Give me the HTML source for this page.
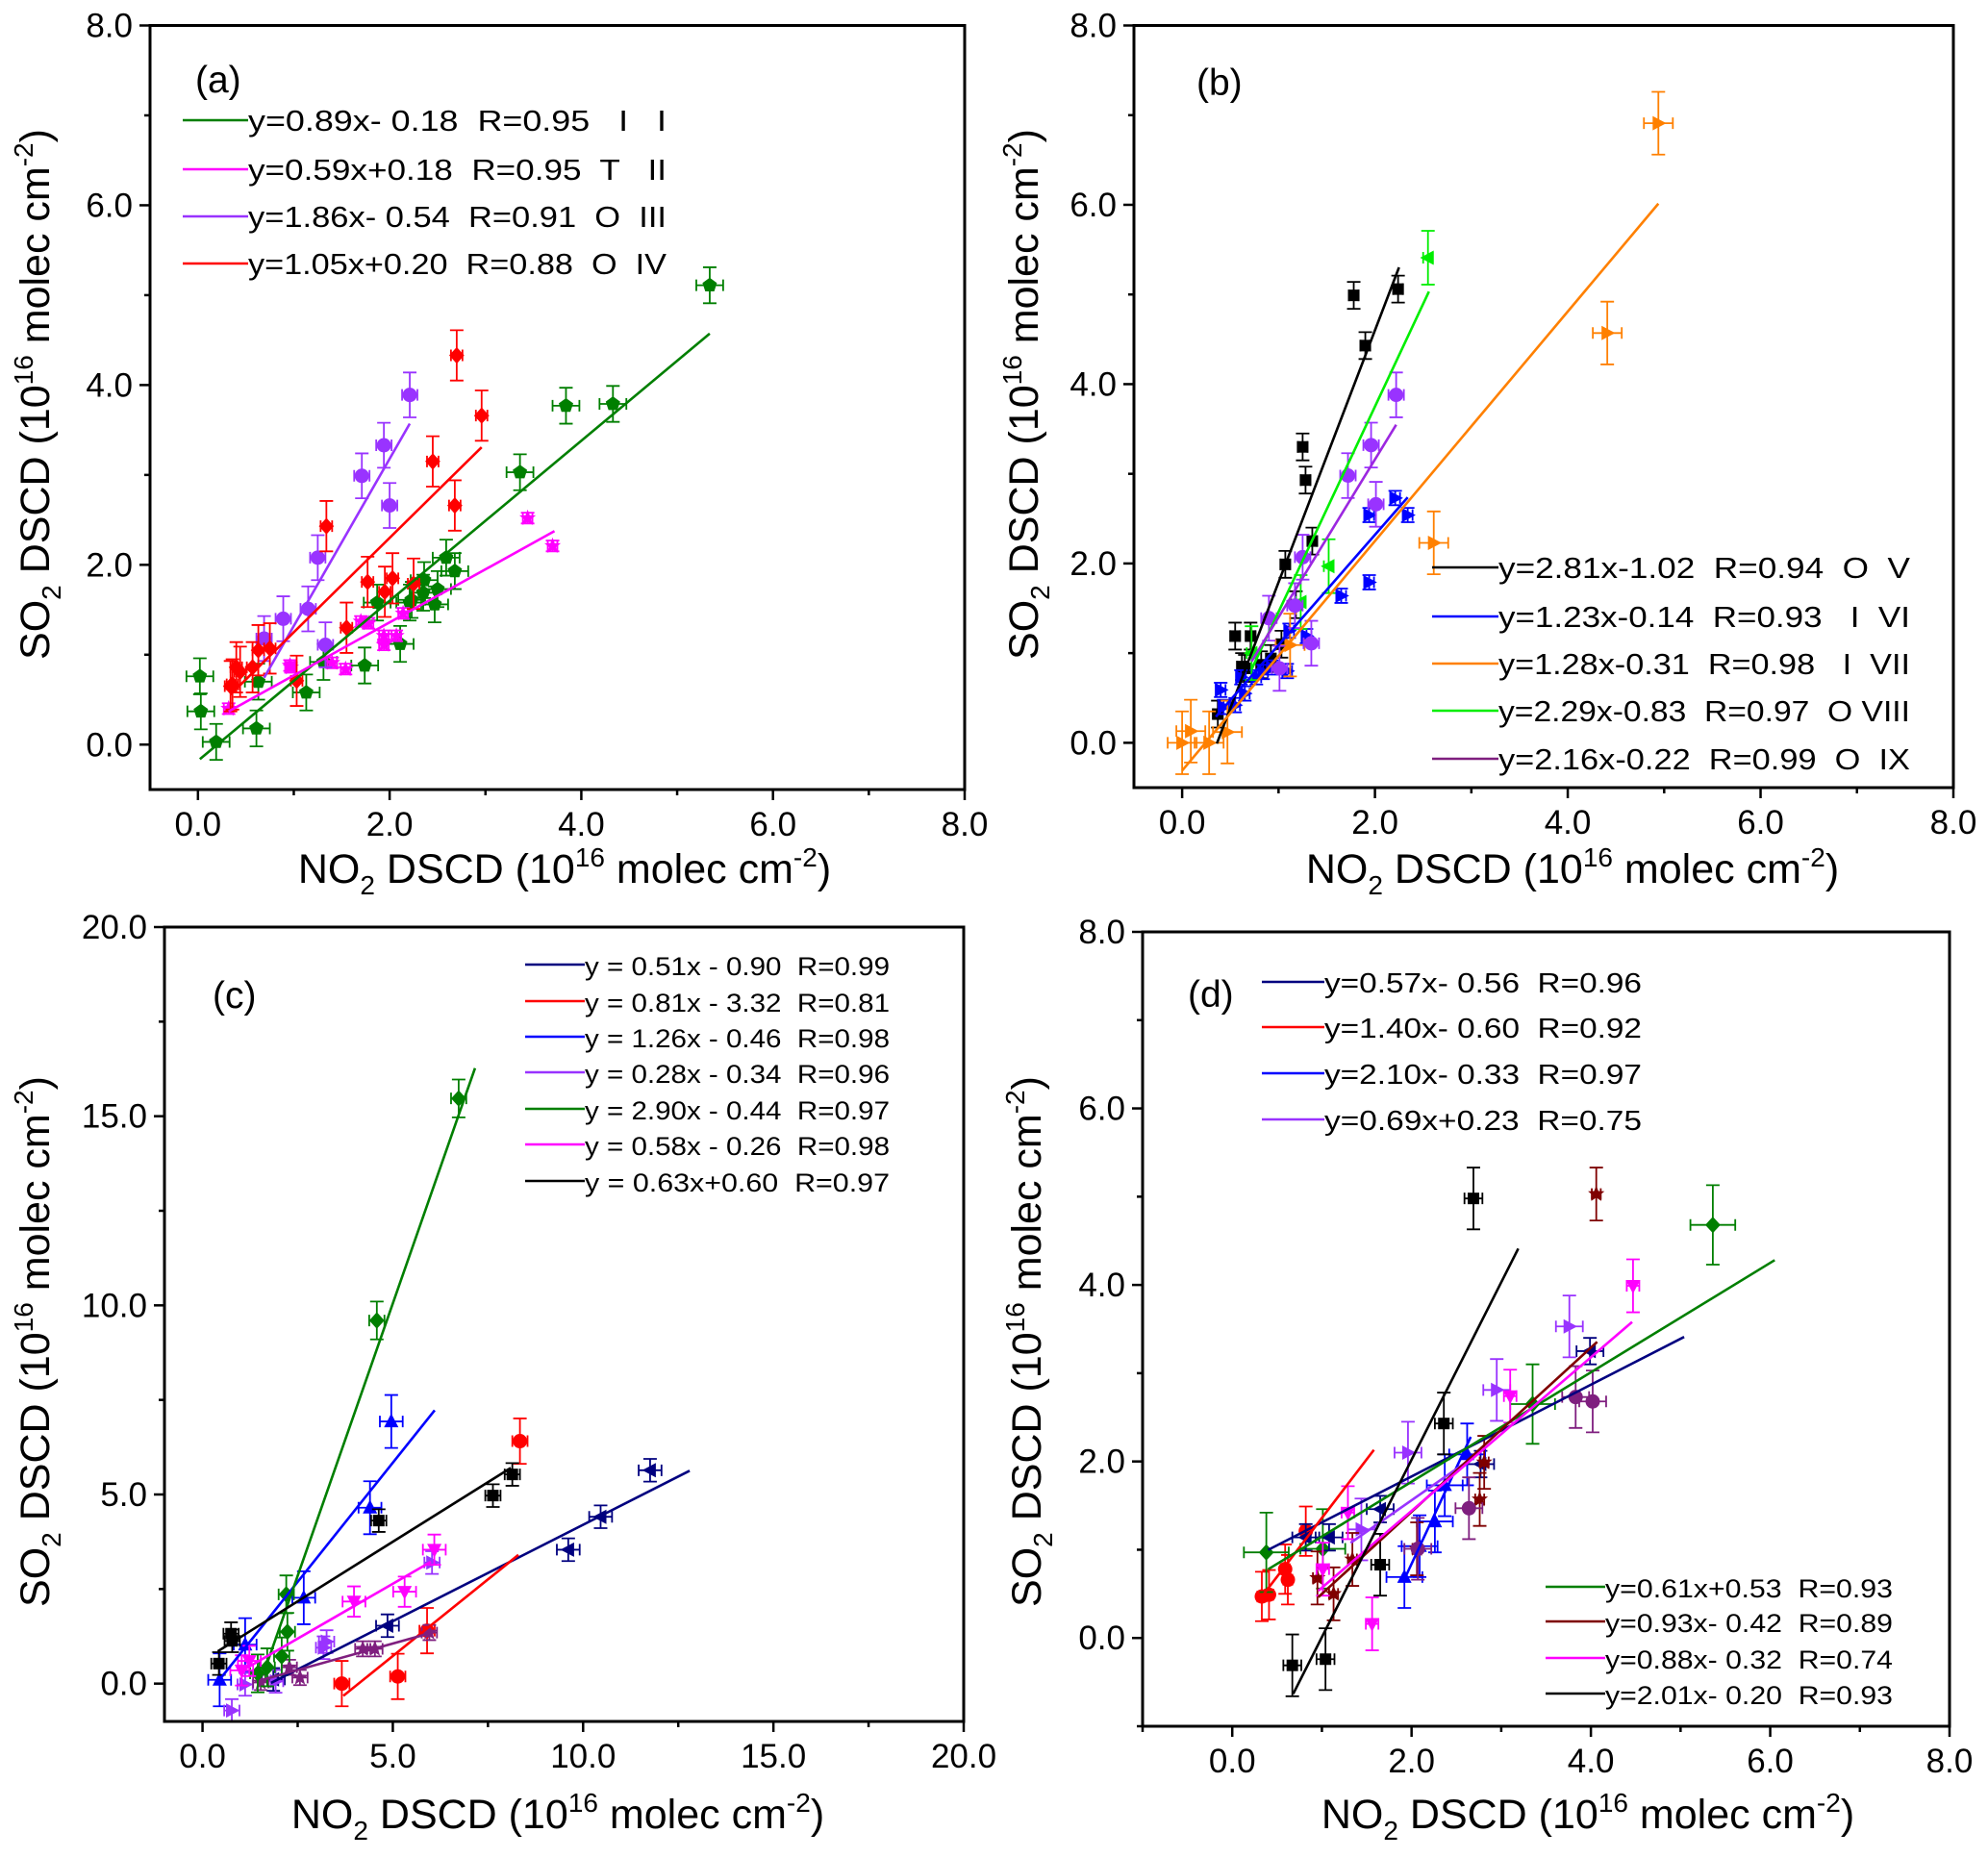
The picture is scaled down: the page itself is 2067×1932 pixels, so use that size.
<!DOCTYPE html>
<html><head><meta charset="utf-8"><style>
html,body{margin:0;padding:0;background:#fff}
svg{display:block}
text{font-family:"Liberation Sans",Arial,sans-serif;fill:#000}
</style></head><body>
<svg id="fig" width="2067" height="1932" viewBox="0 0 2067 1932" xmlns="http://www.w3.org/2000/svg"></svg>
<script>
// ---------- Panel (a) data ----------
const aGX=[0.02,0.03,0.19,0.61,0.63,1.13,1.31,1.74,1.87,2.11,2.21,2.23,2.35,2.36,2.47,2.50,2.59,2.68,3.36,3.84,4.33,5.34];
const aGY=[0.76,0.37,0.03,0.18,0.70,0.58,0.92,0.88,1.58,1.12,1.58,1.61,1.69,1.83,1.56,1.73,2.08,1.93,3.03,3.77,3.79,5.11];
const aMX=[0.32,0.96,0.97,1.40,1.54,1.70,1.78,1.94,1.94,2.07,2.14,3.44,3.70];
const aMY=[0.40,0.88,0.86,0.91,0.84,1.37,1.35,1.21,1.11,1.21,1.46,2.52,2.21];
const aPX=[0.69,0.89,1.15,1.25,1.33,1.71,1.94,2.00,2.21];
const aPY=[1.18,1.40,1.51,2.08,1.11,2.99,3.33,2.66,3.89];
const aRX=[0.34,0.36,0.40,0.44,0.57,0.63,0.75,1.03,1.34,1.55,1.77,1.95,2.03,2.25,2.45,2.68,2.70,2.96];
const aRY=[0.65,0.67,0.86,0.81,0.86,1.05,1.07,0.71,2.43,1.30,1.81,1.70,1.85,1.79,3.15,2.66,4.33,3.66];
const aFitSlope=[0.89,0.59,1.86,1.05];
const aFitIntercept=[-0.18,0.18,-0.54,0.20];
const aFitXmin=[0.02,0.32,0.69,0.34];
const aFitXmax=[5.34,3.72,2.21,2.96];
const aLegend=["y=0.89x- 0.18  R=0.95   I   I","y=0.59x+0.18  R=0.95  T   II","y=1.86x- 0.54  R=0.91  O  III","y=1.05x+0.20  R=0.88  O  IV"];
// ---------- Panel (b) data ----------
const bKX=[0.37,0.55,0.62,0.65,0.71,0.82,0.92,1.03,1.07,1.18,1.25,1.28,1.35,1.78,1.90,2.24];
const bKY=[0.32,1.19,0.85,0.83,1.19,0.87,0.94,1.10,1.99,1.54,3.30,2.93,2.25,4.99,4.43,5.06];
const bBX=[0.40,0.43,0.55,0.61,0.65,0.77,0.84,0.93,1.09,1.11,1.29,1.65,1.94,1.94,2.21,2.34];
const bBY=[0.59,0.40,0.42,0.73,0.55,0.73,0.79,0.84,0.80,1.25,1.19,1.64,1.79,2.54,2.73,2.54];
const bOX=[0.00,0.09,0.28,0.47,1.12,2.61,4.41,4.94];
const bOY=[0.00,0.13,0.00,0.12,1.09,2.23,4.57,6.91];
const bLX=[0.72,1.23,1.52,2.55];
const bLY=[1.00,1.57,1.97,5.41];
const bPX=[0.90,1.01,1.17,1.25,1.34,1.72,1.96,2.01,2.22];
const bPY=[1.39,0.83,1.53,2.07,1.11,2.98,3.32,2.66,3.88];
const bFitSlope=[2.81,1.23,1.28,2.29,1.76];
const bFitIntercept=[-1.02,-0.14,-0.31,-0.83,-0.36];
const bFitXmin=[0.36,0.35,0.0,0.72,0.72];
const bFitXmax=[2.25,2.34,4.94,2.56,2.22];
const bLegend=["y=2.81x-1.02  R=0.94  O  V","y=1.23x-0.14  R=0.93   I  VI","y=1.28x-0.31  R=0.98   I  VII","y=2.29x-0.83  R=0.97  O VIII","y=2.16x-0.22  R=0.99  O  IX"];
// ---------- Panel (c) data ----------
const cNX=[1.86,4.86,9.61,10.46,11.76];
const cNY=[0.11,1.53,3.54,4.41,5.64];
const cRX=[3.66,5.13,5.90,8.34];
const cRY=[0.00,0.19,1.40,6.41];
const cBX=[0.45,1.12,2.66,4.40,4.96];
const cBY=[0.10,1.03,2.27,4.65,6.93];
const cPX=[0.77,1.12,1.92,3.18,3.26,6.03];
const cPY=[-0.71,-0.02,0.06,0.95,1.11,3.20];
const cDX=[1.53,2.28,2.56,4.21,4.53,5.96];
const cDY=[0.03,0.43,0.16,0.92,0.92,1.35];
const cGX=[1.45,1.70,2.08,2.23,2.20,4.58,6.73];
const cGY=[0.27,0.43,0.72,1.37,2.36,9.60,15.47];
const cMX=[1.03,1.23,3.98,5.31,6.09];
const cMY=[0.35,0.60,2.17,2.43,3.54];
const cKX=[0.43,0.75,0.78,4.63,7.63,8.14];
const cKY=[0.53,1.32,1.13,4.31,4.97,5.53];
const cFitSlope=[0.51,0.81,1.26,0.28,2.88,0.58,0.63];
const cFitIntercept=[-0.90,-3.32,-0.46,-0.34,-4.35,-0.26,0.60];
const cFitXmin=[1.8,3.7,0.4,1.5,1.62,1.0,0.4];
const cFitXmax=[12.8,8.3,6.1,6.0,7.16,6.0,8.1];
const cLegend=["y = 0.51x - 0.90  R=0.99","y = 0.81x - 3.32  R=0.81","y = 1.26x - 0.46  R=0.98","y = 0.28x - 0.34  R=0.96","y = 2.90x - 0.44  R=0.97","y = 0.58x - 0.26  R=0.98","y = 0.63x+0.60  R=0.97"];
// ---------- Panel (d) data ----------
const dRX=[0.33,0.41,0.59,0.62,0.82];
const dRY=[0.47,0.49,0.78,0.66,1.21];
const dGX=[0.38,1.01,3.35,5.36];
const dGY=[0.97,1.01,2.65,4.68];
const dNX=[0.82,1.08,1.65,2.77,3.99];
const dNY=[1.14,1.14,1.46,1.97,3.25];
const dBX=[1.92,2.09,2.26,2.37,2.62];
const dBY=[0.69,1.04,1.32,1.73,2.08];
const dPX=[1.44,1.96,2.95,3.76];
const dPY=[1.23,2.10,2.81,3.53];
const dWX=[0.95,1.13,1.34,2.06,2.76,2.81,4.06];
const dWY=[0.68,0.50,0.89,1.01,1.57,1.99,5.03];
const dMX=[1.01,1.29,1.56,3.10,4.47];
const dMY=[0.78,1.42,0.16,2.74,3.99];
const dVX=[2.07,2.64,3.83,4.02];
const dVY=[1.01,1.47,2.73,2.68];
const dKX=[0.67,1.04,1.65,2.36,2.69];
const dKY=[-0.31,-0.24,0.83,2.43,4.98];
const dFitSlope=[0.52,1.33,2.18,0.71,0.62,0.93,0.87,2.01];
const dFitIntercept=[0.79,0.03,-3.52,0.14,0.53,-0.43,-0.30,-2.00];
const dFitXmin=[0.40,0.33,1.92,1.32,0.40,0.96,0.96,0.68];
const dFitXmax=[5.04,1.58,2.66,2.73,6.05,4.07,4.46,3.19];
const dLegendTop=["y=0.57x- 0.56  R=0.96","y=1.40x- 0.60  R=0.92","y=2.10x- 0.33  R=0.97","y=0.69x+0.23  R=0.75"];
const dLegendBot=["y=0.61x+0.53  R=0.93","y=0.93x- 0.42  R=0.89","y=0.88x- 0.32  R=0.74","y=2.01x- 0.20  R=0.93"];

const NS="http://www.w3.org/2000/svg";
const svg=document.getElementById('fig');
function mk(tag,attrs,parent){const e=document.createElementNS(NS,tag);for(const k in attrs)e.setAttribute(k,attrs[k]);(parent||svg).appendChild(e);return e;}

function markerPath(shape,cx,cy,r){
  const pts=[];
  if(shape==='circle')return null;
  if(shape==='square')return `M${cx-r*0.8},${cy-r*0.8}h${1.6*r}v${1.6*r}h${-1.6*r}Z`;
  if(shape==='diamond'){pts.push([cx,cy-r*1.15],[cx+r*1.05,cy],[cx,cy+r*1.15],[cx-r*1.05,cy]);}
  if(shape==='utri'){pts.push([cx,cy-r*1.1],[cx+r,cy+r*0.8],[cx-r,cy+r*0.8]);}
  if(shape==='dtri'){pts.push([cx,cy+r*1.1],[cx+r,cy-r*0.8],[cx-r,cy-r*0.8]);}
  if(shape==='rtri'){pts.push([cx+r*1.1,cy],[cx-r*0.8,cy-r],[cx-r*0.8,cy+r]);}
  if(shape==='ltri'){pts.push([cx-r*1.1,cy],[cx+r*0.8,cy-r],[cx+r*0.8,cy+r]);}
  if(shape==='pent'){for(let i=0;i<5;i++){const a=-Math.PI/2+i*2*Math.PI/5;pts.push([cx+r*1.05*Math.cos(a),cy+r*1.05*Math.sin(a)]);}}
  if(shape==='star'){for(let i=0;i<10;i++){const a=-Math.PI/2+i*Math.PI/5;const rr=i%2?r*0.5:r*1.2;pts.push([cx+rr*Math.cos(a),cy+rr*Math.sin(a)]);}}
  return 'M'+pts.map(p=>p[0].toFixed(1)+','+p[1].toFixed(1)).join('L')+'Z';
}

function panel(p){
  const g=mk('g',{});
  
  
  const sx=v=>p.x0+(v-p.xmin)/(p.xmax-p.xmin)*(p.x1-p.x0);
  const sy=v=>p.y1-(v-p.ymin)/(p.ymax-p.ymin)*(p.y1-p.y0);
  for(let v=p.xstart;v<=p.xmax+1e-9;v+=p.xstep/2){
    const major=Math.abs(Math.round(v/p.xstep)*p.xstep-v)<1e-6;
    const t=mk('line',{x1:sx(v),x2:sx(v),y1:p.y1,y2:p.y1+(major?11:6),stroke:'#000','stroke-width':2.5},g);
    
    if(major&&v>=0){const tx=mk('text',{x:sx(v),y:p.y1+48,'font-size':35,'text-anchor':'middle'},g);tx.textContent=v.toFixed(1);
      }
  }
  for(let v=p.ystart;v<=p.ymax+1e-9;v+=p.ystep/2){
    const major=Math.abs(Math.round(v/p.ystep)*p.ystep-v)<1e-6;
    const t=mk('line',{x1:p.x0,x2:p.x0-(major?11:6),y1:sy(v),y2:sy(v),stroke:'#000','stroke-width':2.5},g);
    
    if(major&&v>=0){const tx=mk('text',{x:p.x0-18,y:sy(v)+12,'font-size':35,'text-anchor':'end'},g);tx.textContent=v.toFixed(1);
      }
  }
  const cid='clip'+p.id;
  const cp=mk('clipPath',{id:cid},g);mk('rect',{x:p.x0,y:p.y0,width:p.x1-p.x0,height:p.y1-p.y0},cp);
  const plot=mk('g',{'clip-path':`url(#${cid})`},g);
  p.series.forEach(s=>{
    const sg=mk('g',{},plot);
    
    
    for(let i=0;i<s.x.length;i++){
      const cx=sx(s.x[i]),cy=sy(s.y[i]);
      const ex=(sx(s.x[i]+s.xe)-cx),ey=(cy-sy(s.y[i]+s.ye));
      const eb=mk('path',{d:`M${cx-ex},${cy}H${cx+ex}M${cx-ex},${cy-6}V${cy+6}M${cx+ex},${cy-6}V${cy+6}M${cx},${cy-ey}V${cy+ey}M${cx-7},${cy-ey}H${cx+7}M${cx-7},${cy+ey}H${cx+7}`,stroke:s.color,'stroke-width':1.8,fill:'none'},sg);
      
      let m;
      if(s.shape==='circle')m=mk('circle',{cx:cx,cy:cy,r:7.5,fill:s.color},sg);
      else m=mk('path',{d:markerPath(s.shape,cx,cy,7.5),fill:s.color},sg);
      
    }
  });
  for(let i=0;i<p.slope.length;i++){
    const a=p.xmn[i],b=p.xmx[i];
    const l=mk('line',{x1:sx(a),y1:sy(p.slope[i]*a+p.icpt[i]),x2:sx(b),y2:sy(p.slope[i]*b+p.icpt[i]),stroke:p.fitColors[i],'stroke-width':2.6},plot);
    
  }
  const fr=mk('rect',{x:p.x0,y:p.y0,width:p.x1-p.x0,height:p.y1-p.y0,fill:'none',stroke:'#000','stroke-width':3},g);
  
  const pl=mk('text',{x:p.lab[0],y:p.lab[1],'font-size':39},g);pl.textContent='('+p.id+')';
  
  p.legends.forEach(L=>{
    L.texts.forEach((t,i)=>{
      const y=L.rows[i];
      const ln=mk('line',{x1:L.lx0,x2:L.lx1,y1:y,y2:y,stroke:L.colors[i],'stroke-width':2.6},g);
      
      const tx=mk('text',{x:L.lx1,y:y+11,'font-size':L.fs,textLength:L.tl,lengthAdjust:'spacingAndGlyphs',style:'white-space:pre'},g);
      tx.textContent=t;
      
    });
  });
  const xt=mk('text',{x:p.xt[0],y:p.xt[1],'font-size':43,'text-anchor':'middle'},g);
  xt.innerHTML='NO<tspan font-size="28" dy="12">2</tspan><tspan dy="-12"> DSCD (10</tspan><tspan font-size="28" dy="-17">16</tspan><tspan dy="17"> molec cm</tspan><tspan font-size="28" dy="-17">-2</tspan><tspan dy="17">)</tspan>';
  
  const yt=mk('text',{x:0,y:0,'font-size':43,'text-anchor':'middle',transform:`translate(${p.yt[0]+15},${p.yt[1]}) rotate(-90)`},g);
  yt.innerHTML='SO<tspan font-size="28" dy="12">2</tspan><tspan dy="-12"> DSCD (10</tspan><tspan font-size="28" dy="-17">16</tspan><tspan dy="17"> molec cm</tspan><tspan font-size="28" dy="-17">-2</tspan><tspan dy="17">)</tspan>';
  
}

const GREEN='#007f00',MAG='#ff00ff',PUR='#9933ff',RED='#ff0000',NAVY='#00007f',BLUE='#0000ff',ORG='#ff8000',LIME='#00ee00',DPUR='#7f1f7f',BRN='#7f0000',BLK='#000000',VIO='#9c27e0';

panel({id:'a',x0:156,x1:1003,y0:26.5,y1:821,xmin:-0.5,xmax:8,ymin:-0.5,ymax:8,xstart:0,xstep:2,ystart:0,ystep:2,
  series:[{name:'I',x:aGX,y:aGY,xe:0.14,ye:0.2,color:GREEN,shape:'pent'},
          {name:'II',x:aMX,y:aMY,xe:0.05,ye:0.06,color:MAG,shape:'star'},
          {name:'III',x:aPX,y:aPY,xe:0.08,ye:0.25,color:PUR,shape:'circle'},
          {name:'IV',x:aRX,y:aRY,xe:0.06,ye:0.28,color:RED,shape:'diamond'}],
  slope:aFitSlope,icpt:aFitIntercept,xmn:aFitXmin,xmx:aFitXmax,fitColors:[GREEN,MAG,PUR,RED],
  lab:[203,96],
  legends:[{texts:aLegend,rows:[125,176,225,274],lx0:190,lx1:258,colors:[GREEN,MAG,PUR,RED],fs:31,tl:435}],
  xt:[587,918],yt:[36,410]});

panel({id:'b',x0:1179,x1:2031,y0:26.5,y1:819,xmin:-0.5,xmax:8,ymin:-0.5,ymax:8,xstart:0,xstep:2,ystart:0,ystep:2,
  series:[{name:'V',x:bKX,y:bKY,xe:0.05,ye:0.15,color:BLK,shape:'square'},
          {name:'VI',x:bBX,y:bBY,xe:0.05,ye:0.08,color:BLUE,shape:'rtri'},
          {name:'VII',x:bOX,y:bOY,xe:0.15,ye:0.35,color:ORG,shape:'rtri'},
          {name:'VIII',x:bLX,y:bLY,xe:0.05,ye:0.3,color:LIME,shape:'ltri'},
          {name:'IX',x:bPX,y:bPY,xe:0.08,ye:0.25,color:PUR,shape:'circle'}],
  slope:bFitSlope,icpt:bFitIntercept,xmn:bFitXmin,xmx:bFitXmax,fitColors:[BLK,BLUE,ORG,LIME,VIO],
  lab:[1244,99],
  legends:[{texts:bLegend,rows:[590,641,690,739,789],lx0:1489,lx1:1558,colors:[BLK,BLUE,ORG,LIME,DPUR],fs:31,tl:428}],
  xt:[1635,918],yt:[1064,410]});

panel({id:'c',x0:171,x1:1002,y0:964,y1:1790,xmin:-1,xmax:20,ymin:-1,ymax:20,xstart:0,xstep:5,ystart:0,ystep:5,
  series:[{name:'navy',x:cNX,y:cNY,xe:0.3,ye:0.3,color:NAVY,shape:'ltri'},
          {name:'red',x:cRX,y:cRY,xe:0.2,ye:0.6,color:RED,shape:'circle'},
          {name:'blue',x:cBX,y:cBY,xe:0.3,ye:0.7,color:BLUE,shape:'utri'},
          {name:'purple',x:cPX,y:cPY,xe:0.2,ye:0.3,color:PUR,shape:'rtri'},
          {name:'dark-purple',x:cDX,y:cDY,xe:0.2,ye:0.2,color:DPUR,shape:'star'},
          {name:'green',x:cGX,y:cGY,xe:0.2,ye:0.5,color:GREEN,shape:'diamond'},
          {name:'magenta',x:cMX,y:cMY,xe:0.3,ye:0.4,color:MAG,shape:'dtri'},
          {name:'black',x:cKX,y:cKY,xe:0.2,ye:0.3,color:BLK,shape:'square'}],
  slope:cFitSlope,icpt:cFitIntercept,xmn:cFitXmin,xmx:cFitXmax,fitColors:[NAVY,RED,BLUE,DPUR,GREEN,MAG,BLK],
  lab:[221,1048],
  legends:[{texts:cLegend,rows:[1003,1041,1078,1115,1153,1190,1228],lx0:546,lx1:608,colors:[NAVY,RED,BLUE,PUR,GREEN,MAG,BLK],fs:27,tl:317}],
  xt:[580,1901],yt:[36,1395]});

panel({id:'d',x0:1188,x1:2027,y0:969,y1:1795,xmin:-1,xmax:8,ymin:-1,ymax:8,xstart:-1,xstep:2,ystart:-1,ystep:2,
  series:[{name:'red',x:dRX,y:dRY,xe:0.05,ye:0.28,color:RED,shape:'circle'},
          {name:'green',x:dGX,y:dGY,xe:0.25,ye:0.45,color:GREEN,shape:'diamond'},
          {name:'navy',x:dNX,y:dNY,xe:0.15,ye:0.15,color:NAVY,shape:'ltri'},
          {name:'blue',x:dBX,y:dBY,xe:0.2,ye:0.35,color:BLUE,shape:'utri'},
          {name:'purple',x:dPX,y:dPY,xe:0.15,ye:0.35,color:PUR,shape:'rtri'},
          {name:'brown',x:dWX,y:dWY,xe:0.05,ye:0.3,color:BRN,shape:'star'},
          {name:'magenta',x:dMX,y:dMY,xe:0.07,ye:0.3,color:MAG,shape:'dtri'},
          {name:'dark-purple',x:dVX,y:dVY,xe:0.15,ye:0.35,color:DPUR,shape:'circle'},
          {name:'black',x:dKX,y:dKY,xe:0.1,ye:0.35,color:BLK,shape:'square'}],
  slope:dFitSlope,icpt:dFitIntercept,xmn:dFitXmin,xmx:dFitXmax,fitColors:[NAVY,RED,BLUE,PUR,GREEN,BRN,MAG,BLK],
  lab:[1235,1047],
  legends:[{texts:dLegendTop,rows:[1021,1068,1116,1164],lx0:1312,lx1:1377,colors:[NAVY,RED,BLUE,PUR],fs:29,tl:330},
           {texts:dLegendBot,rows:[1650,1686,1724,1761],lx0:1607,lx1:1669,colors:[GREEN,BRN,MAG,BLK],fs:27,tl:299}],
  xt:[1651,1901],yt:[1067,1395]});
</script>
</body></html>
